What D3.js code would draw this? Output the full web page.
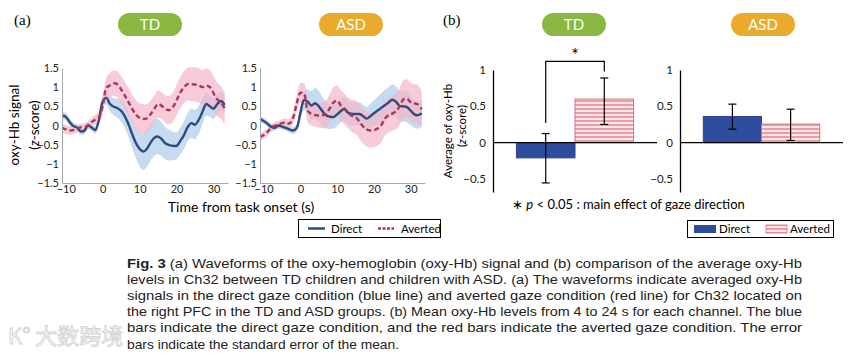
<!DOCTYPE html>
<html>
<head>
<meta charset="utf-8">
<script src="https://cdn.jsdelivr.net/npm/d3@7"></script>
<style>
  body { margin: 0; background: #fff; }
  svg { display: block; }
</style>
</head>
<body>
<div id="chart"></div>
<script>
// ---- data ----
const timeSec = [-11, -10, -9, -8, -7, -6, -5, -4, -3, -2, -1, 0, 1, 2, 3, 4, 5, 6, 7, 8, 9, 10,
  11, 12, 13, 14, 15, 16, 17, 18, 19, 20, 21, 22, 23, 24, 25, 26, 27, 28, 29, 30, 31, 32, 33];

const tdDirect = [0.26, 0.23, 0.10, -0.01, -0.05, -0.15, -0.14, 0.0, -0.05, -0.12, 0.15,
  0.62, 0.72, 0.56, 0.49, 0.45, 0.38, 0.24, 0.03, -0.23, -0.46, -0.61,
  -0.68, -0.60, -0.44, -0.32, -0.29, -0.36, -0.47, -0.51, -0.53, -0.53,
  -0.40, -0.25, -0.04, 0.06, 0.02, 0.15, 0.36, 0.56, 0.50, 0.44, 0.56, 0.64, 0.54];
const tdDirectSE = [0.10, 0.10, 0.10, 0.09, 0.09, 0.09, 0.09, 0.09, 0.09, 0.10, 0.12,
  0.15, 0.17, 0.20, 0.22, 0.25, 0.28, 0.30, 0.33, 0.36, 0.40, 0.45,
  0.48, 0.48, 0.48, 0.47, 0.46, 0.44, 0.42, 0.40, 0.37, 0.35,
  0.35, 0.36, 0.37, 0.38, 0.38, 0.36, 0.33, 0.30, 0.28, 0.27, 0.26, 0.25, 0.24];
const tdAverted = [-0.05, -0.10, -0.13, -0.12, -0.09, -0.05, -0.04, 0.0, 0.09, 0.15, 0.21,
  0.50, 0.98, 1.05, 1.10, 1.07, 0.94, 0.78, 0.61, 0.43, 0.28, 0.20,
  0.17, 0.19, 0.30, 0.44, 0.56, 0.51, 0.43, 0.40, 0.48, 0.66,
  0.86, 1.00, 1.08, 1.08, 1.07, 1.05, 1.00, 1.04, 1.00, 0.84, 0.68, 0.60, 0.45];
const tdAvertedSE = [0.12, 0.12, 0.11, 0.11, 0.10, 0.10, 0.10, 0.11, 0.12, 0.13, 0.15,
  0.20, 0.28, 0.32, 0.33, 0.34, 0.35, 0.36, 0.37, 0.38, 0.38, 0.38,
  0.38, 0.37, 0.36, 0.35, 0.35, 0.35, 0.36, 0.37, 0.38, 0.40,
  0.41, 0.42, 0.43, 0.44, 0.45, 0.45, 0.45, 0.45, 0.45, 0.45, 0.44, 0.43, 0.42];

const asdDirect = [0.17, 0.12, 0.05, -0.03, -0.06, 0.0, -0.03, -0.06, -0.10, -0.13, -0.06,
  0.33, 0.66, 0.62, 0.52, 0.58, 0.50, 0.37, 0.27, 0.23, 0.22, 0.29,
  0.38, 0.43, 0.33, 0.30, 0.30, 0.30, 0.25, 0.18, 0.24, 0.32,
  0.39, 0.46, 0.53, 0.60, 0.67, 0.62, 0.51, 0.50, 0.48, 0.39, 0.29, 0.27, 0.32];
const asdDirectSE = [0.08, 0.08, 0.08, 0.08, 0.08, 0.08, 0.08, 0.08, 0.08, 0.09, 0.10,
  0.15, 0.25, 0.32, 0.38, 0.40, 0.40, 0.38, 0.35, 0.32, 0.30, 0.30,
  0.30, 0.30, 0.30, 0.30, 0.30, 0.30, 0.30, 0.30, 0.32, 0.34,
  0.36, 0.38, 0.40, 0.40, 0.40, 0.40, 0.40, 0.40, 0.40, 0.38, 0.36, 0.35, 0.35];
const asdAverted = [-0.30, -0.25, -0.17, -0.07, -0.01, 0.02, 0.06, 0.08, 0.05, 0.20, 0.58,
  0.85, 0.82, 0.38, 0.30, 0.27, 0.26, 0.27, 0.30, 0.45, 0.60, 0.65,
  0.52, 0.43, 0.33, 0.25, 0.22, 0.11, -0.02, -0.10, -0.13, -0.12,
  -0.08, 0.01, 0.18, 0.27, 0.31, 0.37, 0.50, 0.68, 0.70, 0.61, 0.58, 0.55, 0.42];
const asdAvertedSE = [0.10, 0.10, 0.10, 0.10, 0.10, 0.10, 0.10, 0.10, 0.12, 0.15, 0.20,
  0.25, 0.28, 0.30, 0.30, 0.30, 0.32, 0.34, 0.36, 0.38, 0.40, 0.40,
  0.40, 0.40, 0.40, 0.42, 0.44, 0.45, 0.45, 0.45, 0.45, 0.45,
  0.45, 0.45, 0.45, 0.45, 0.45, 0.47, 0.48, 0.50, 0.50, 0.50, 0.50, 0.50, 0.48];

const waveYTicks = [1.5, 1, 0.5, 0, -0.5, -1, -1.5];
const waveXTicks = [-10, 0, 10, 20, 30];

// panel (b): mean oxy-Hb 4-24 s, with error bar ends
const conditions = ["Direct", "Averted"];
const tdMean = [-0.21, 0.60];
const tdErrLow = [-0.555, 0.25];
const tdErrHigh = [0.125, 0.89];
const asdMean = [0.36, 0.255];
const asdErrLow = [0.185, 0.03];
const asdErrHigh = [0.53, 0.46];
const barYTicks = [1, 0.5, 0, -0.5];

const captionLines = [
  "(a) Waveforms of the oxy-hemoglobin (oxy-Hb) signal and (b) comparison of the average oxy-Hb",
  "levels in Ch32 between TD children and children with ASD. (a) The waveforms indicate averaged oxy-Hb",
  "signals in the direct gaze condition (blue line) and averted gaze condition (red line) for Ch32 located on",
  "the right PFC in the TD and ASD groups. (b) Mean oxy-Hb levels from 4 to 24 s for each channel. The blue",
  "bars indicate the direct gaze condition, and the red bars indicate the averted gaze condition. The error",
  "bars indicate the standard error of the mean."
];

// ---- colours ----
const blueLine = "#2f4a7c";
const blueBand = "#bcd5ec";
const redLine = "#a9375b";
const pinkBand = "#f4b6c8";
const barBlue = "#2d4c9e";
const sansFont = "Lato, 'Open Sans', sans-serif";

const W = 858, H = 353;
const svg = d3.select("#chart").append("svg")
  .attr("width", W)
  .attr("height", H)
  .style("font-family", sansFont);

svg.append("rect").attr("width", W).attr("height", H).attr("fill", "#fff");

// hatch pattern for the averted bars
const defs = svg.append("defs");
const pat = defs.append("pattern")
  .attr("id", "hatch")
  .attr("patternUnits", "userSpaceOnUse")
  .attr("width", 6).attr("height", 4);
pat.append("rect").attr("width", 6).attr("height", 4).attr("fill", "#fde6e9");
pat.append("line")
  .attr("x1", 0).attr("x2", 6).attr("y1", 1).attr("y2", 1)
  .attr("stroke", "#e27f8c").attr("stroke-width", 1.4);

// panel labels
svg.append("text").attr("x", 14).attr("y", 25)
  .style("font-family", "'Liberation Serif', serif").style("font-size", "15px")
  .text("(a)");
svg.append("text").attr("x", 443).attr("y", 25)
  .style("font-family", "'Liberation Serif', serif").style("font-size", "15px")
  .text("(b)");

// group pills
function pill(cx, label, color) {
  const g = svg.append("g");
  g.append("rect")
    .attr("x", cx - 32).attr("y", 13)
    .attr("width", 64).attr("height", 23)
    .attr("rx", 11.5)
    .attr("fill", color);
  g.append("text")
    .attr("x", cx).attr("y", 30)
    .attr("text-anchor", "middle")
    .attr("fill", "#fff")
    .style("font-size", "15px")
    .text(label);
}
pill(150, "TD", "#8bb843");
pill(351, "ASD", "#eaab2d");
pill(574, "TD", "#8bb843");
pill(763, "ASD", "#eaab2d");

// ---- panel (a): waveforms ----
const waveY = d3.scaleLinear().domain([-1.5, 1.5]).range([183, 68]);

function wavePanel(x0, x1, direct, directSE, averted, avertedSE) {
  const x = d3.scaleLinear().domain([-11, 33.9]).range([x0, x1]);
  const g = svg.append("g");

  const rowsD = timeSec.map((t, i) => ({ t, v: direct[i], se: directSE[i] }));
  const rowsA = timeSec.map((t, i) => ({ t, v: averted[i], se: avertedSE[i] }));

  const band = d3.area()
    .x(d => x(d.t))
    .y0(d => waveY(d.v - d.se))
    .y1(d => waveY(d.v + d.se))
    .curve(d3.curveCatmullRom);
  const line = d3.line()
    .x(d => x(d.t))
    .y(d => waveY(d.v))
    .curve(d3.curveCatmullRom);

  g.append("path").datum(rowsD).attr("d", band)
    .attr("fill", blueBand).attr("opacity", 0.85);
  g.append("path").datum(rowsA).attr("d", band)
    .attr("fill", pinkBand).attr("opacity", 0.7);

  g.append("path").datum(rowsD).attr("d", line)
    .attr("fill", "none").attr("stroke", blueLine).attr("stroke-width", 2.4);
  g.append("path").datum(rowsA).attr("d", line)
    .attr("fill", "none").attr("stroke", redLine).attr("stroke-width", 2.4)
    .attr("stroke-dasharray", "5,3");

  // axes
  const yAxis = g.append("g")
    .attr("transform", `translate(${x0},0)`)
    .call(d3.axisLeft(waveY).tickValues(waveYTicks).tickSize(0).tickPadding(3)
      .tickFormat(d => d3.format("")(d)));
  const xAxis = g.append("g")
    .attr("transform", `translate(0,183)`)
    .call(d3.axisBottom(x).tickValues(waveXTicks).tickSize(0).tickPadding(2));

  [yAxis, xAxis].forEach(a => {
    a.select(".domain").attr("stroke", "#a8a8a8").attr("stroke-width", 1);
    a.selectAll("text").style("font-family", sansFont).style("font-size", "11px")
      .attr("fill", "#222");
  });
}

wavePanel(62, 228, tdDirect, tdDirectSE, tdAverted, tdAvertedSE);
wavePanel(260, 425, asdDirect, asdDirectSE, asdAverted, asdAvertedSE);

// y title (a)
svg.append("text")
  .attr("transform", "translate(19,125) rotate(-90)")
  .attr("text-anchor", "middle")
  .style("font-size", "13.5px")
  .text("oxy-Hb signal");
const yb = svg.append("text")
  .attr("transform", "translate(39,125) rotate(-90)")
  .attr("text-anchor", "middle")
  .style("font-size", "13.5px");
yb.append("tspan").text("(");
yb.append("tspan").style("font-style", "italic").text("z");
yb.append("tspan").text("-score)");

svg.append("text")
  .attr("x", 241).attr("y", 212)
  .attr("text-anchor", "middle")
  .style("font-size", "14px")
  .text("Time from task onset (s)");

// legend (a)
const legA = svg.append("g");
legA.append("rect").attr("x", 298.5).attr("y", 219.5).attr("width", 142).attr("height", 18)
  .attr("fill", "#fff").attr("stroke", "#000");
legA.append("line").attr("x1", 308).attr("x2", 325).attr("y1", 228.5).attr("y2", 228.5)
  .attr("stroke", blueLine).attr("stroke-width", 2.5);
legA.append("text").attr("x", 331).attr("y", 232.5).style("font-size", "11.5px").text("Direct");
legA.append("line").attr("x1", 378).attr("x2", 394).attr("y1", 228.5).attr("y2", 228.5)
  .attr("stroke", redLine).attr("stroke-width", 2.5).attr("stroke-dasharray", "3,1.5");
legA.append("text").attr("x", 401).attr("y", 232.5).style("font-size", "11.5px").text("Averted");

// ---- panel (b): bars ----
const barY = d3.scaleLinear().domain([-0.68, 1]).range([192, 70]);

function barPanel(x0, x1, means, errLow, errHigh) {
  const x = d3.scaleBand().domain(conditions).range([x0, x1])
    .paddingInner(0).paddingOuter(0.4);
  const g = svg.append("g");

  g.selectAll("rect.bar").data(conditions).join("rect")
    .attr("class", "bar")
    .attr("x", d => x(d))
    .attr("width", x.bandwidth())
    .attr("y", (d, i) => barY(Math.max(0, means[i])))
    .attr("height", (d, i) => Math.abs(barY(means[i]) - barY(0)))
    .attr("fill", d => d === "Direct" ? barBlue : "url(#hatch)")
    .attr("stroke", d => d === "Direct" ? "#28448f" : "#d96c7a")
    .attr("stroke-width", 1);

  // zero line
  g.append("line")
    .attr("x1", x0).attr("x2", x1)
    .attr("y1", barY(0)).attr("y2", barY(0))
    .attr("stroke", "#000").attr("stroke-width", 1.3);

  // error bars
  conditions.forEach((c, i) => {
    const cx = x(c) + x.bandwidth() / 2;
    g.append("line")
      .attr("x1", cx).attr("x2", cx)
      .attr("y1", barY(errLow[i])).attr("y2", barY(errHigh[i]))
      .attr("stroke", "#000").attr("stroke-width", 1.2);
    [errLow[i], errHigh[i]].forEach(v => {
      g.append("line")
        .attr("x1", cx - 4).attr("x2", cx + 4)
        .attr("y1", barY(v)).attr("y2", barY(v))
        .attr("stroke", "#000").attr("stroke-width", 1.2);
    });
  });

  const yAxis = g.append("g")
    .attr("transform", `translate(${x0},0)`)
    .call(d3.axisLeft(barY).tickValues(barYTicks).tickSize(0).tickPadding(7)
      .tickFormat(d => d3.format("")(d)));
  yAxis.select(".domain").attr("stroke", "#000").attr("stroke-width", 1.3);
  yAxis.selectAll("text").style("font-family", sansFont).style("font-size", "11.5px")
    .attr("fill", "#222");
  return x;
}

const tdX = barPanel(493, 657, tdMean, tdErrLow, tdErrHigh);
barPanel(680, 843, asdMean, asdErrLow, asdErrHigh);

// significance bracket on TD
const lx = tdX("Direct") + tdX.bandwidth() / 2;
const rx = tdX("Averted") + tdX.bandwidth() / 2;
svg.append("path")
  .attr("d", `M${lx},${barY(0.27)} V${barY(1.12)} H${rx} V${barY(0.98)}`)
  .attr("fill", "none").attr("stroke", "#000").attr("stroke-width", 1.2);
svg.append("text")
  .attr("x", (lx + rx) / 2).attr("y", 61)
  .attr("text-anchor", "middle")
  .style("font-size", "18px")
  .text("*");

// y title (b)
svg.append("text")
  .attr("transform", "translate(452,131) rotate(-90)")
  .attr("text-anchor", "middle")
  .style("font-size", "11.5px")
  .text("Average of oxy-Hb");
const yb2 = svg.append("text")
  .attr("transform", "translate(466,126) rotate(-90)")
  .attr("text-anchor", "middle")
  .style("font-size", "11.5px");
yb2.append("tspan").text("(");
yb2.append("tspan").style("font-style", "italic").text("z");
yb2.append("tspan").text("-score)");

// footnote
const fn = svg.append("text")
  .attr("x", 512).attr("y", 209)
  .style("font-size", "13px");
fn.append("tspan").text("\u2217 ");
fn.append("tspan").style("font-style", "italic").text("p");
fn.append("tspan").text(" < 0.05 : main effect of gaze direction");

// legend (b)
const legB = svg.append("g");
legB.append("rect").attr("x", 687.5).attr("y", 220.5).attr("width", 146).attr("height", 17)
  .attr("fill", "#fff").attr("stroke", "#000");
legB.append("rect").attr("x", 694).attr("y", 225).attr("width", 22).attr("height", 8)
  .attr("fill", barBlue);
legB.append("text").attr("x", 719).attr("y", 233).style("font-size", "11.5px").text("Direct");
legB.append("rect").attr("x", 766).attr("y", 225).attr("width", 21).attr("height", 8)
  .attr("fill", "url(#hatch)").attr("stroke", "#d96c7a").attr("stroke-width", 0.8);
legB.append("text").attr("x", 790).attr("y", 233).style("font-size", "11.5px").text("Averted");

// ---- caption ----
const cap = svg.append("g")
  .style("font-family", "'Liberation Sans', Arial, sans-serif")
  .style("font-size", "13px")
  .attr("fill", "#222");
captionLines.forEach((line, i) => {
  const t = cap.append("text")
    .attr("x", 127)
    .attr("y", 268 + i * 16.1)
    .attr("lengthAdjust", "spacingAndGlyphs");
  if (i === 0) {
    t.append("tspan").style("font-weight", "bold").text("Fig. 3");
    t.append("tspan").text("  " + line);
    t.attr("textLength", 675);
  } else if (i < captionLines.length - 1) {
    t.text(line).attr("textLength", 675);
  } else {
    t.text(line).attr("textLength", 272);
  }
});

// watermark
svg.append("text")
  .attr("x", 8).attr("y", 344)
  .style("font-family", "'Noto Sans CJK SC', sans-serif")
  .style("font-size", "22px")
  .attr("fill", "#fff").attr("stroke", "#d4d4d4").attr("stroke-width", 0.9)
  .text("K\u00b0 大数跨境");
</script>
</body>
</html>
